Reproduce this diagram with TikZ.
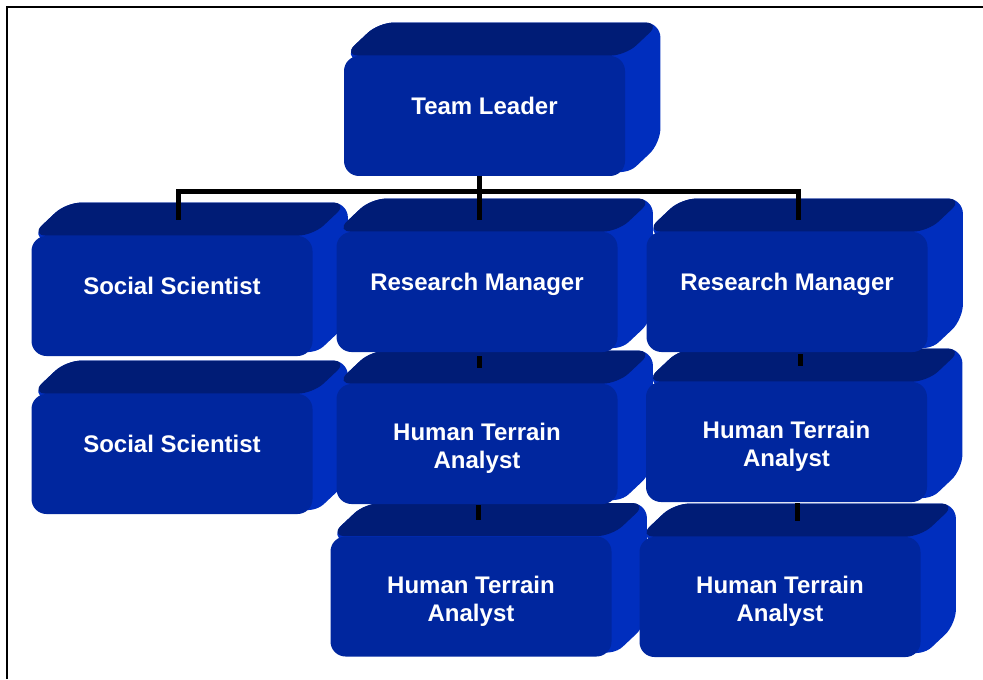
\documentclass[tikz,border=0pt]{standalone}
\usepackage{fontspec}
\setsansfont{Liberation Sans}
\usetikzlibrary{calc,backgrounds}

\definecolor{facefront}{RGB}{0,38,158}
\definecolor{facetop}{RGB}{0,28,118}
\definecolor{faceside}{RGB}{0,46,190}

\newcommand{\lowstrut}{\rule{0pt}{13pt}}

\begin{document}
\begin{tikzpicture}[x=0.5pt,y=-0.5pt,
    box node/.style={rectangle,rounded corners=7.5pt,fill=facefront,text=white,
        minimum width=140.5pt,minimum height=60pt,inner sep=0pt,align=center,
        font=\sffamily\bfseries\fontsize{12}{14}\selectfont},
    one line/.style={text height=9pt,text depth=10.4pt},
    link/.style={line width=2.5pt}]

    \useasboundingbox (0,0) rectangle (983,679);
    \draw[line width=1pt] (6.5,679) |- (983,7);

    \node[box node,one line] (tl) at (484.5,116) {Team Leader};
    \node[box node,one line] (ss1) at (172,296) {Social Scientist};
    \node[box node,one line] (rmA) at (477,292) {Research Manager};
    \node[box node,one line] (rmB) at (787,292) {Research Manager};
    \node[box node,one line] (ss2) at (172,454) {Social Scientist};
    \node[box node] (htaA1) at (477,444) {\lowstrut Human Terrain\\Analyst};
    \node[box node] (htaB1) at (786.5,442) {\lowstrut Human Terrain\\Analyst};
    \node[box node] (htaA2) at (471,596.5) {\lowstrut Human Terrain\\Analyst};
    \node[box node] (htaB2) at (780,597) {\lowstrut Human Terrain\\Analyst};

    % depth of the boxes
    \begin{scope}[on background layer]
        \foreach \n in {tl,ss1,rmA,rmB,ss2,htaA1,htaB1,htaA2,htaB2} {
            \fill[faceside,rounded corners=7.5pt] (\n.north west) -- ++(35,-33)
                -- ($(\n.north east)+(35,-33)$) -- ($(\n.south east)+(35,-33)$)
                -- (\n.south east) -- cycle;
            \fill[facetop,rounded corners=7.5pt] (\n.north west) -- ++(35,-33)
                -- ($(\n.north east)+(35,-33)$) -- (\n.north east) -- cycle;
        }
    \end{scope}

    \coordinate (bar) at (479,192);
    \draw[link] (tl.south -| bar) -- (bar);
    \draw[link] ($(ss1.north)+(6,-16)$) |- ($(rmB.north)+(11,-40)$) -- ++(0,28);
    \draw[link] (bar) -- ($(rmA.north)+(2,-12)$);
    \draw[link] ($(rmA.south)+(2,4)$) -- ($(htaA1.north)+(2,-16)$);
    \draw[link] ($(rmB.south)+(13,2)$) -- ($(htaB1.north)+(13.5,-16)$);
    \draw[link] ($(htaA1.south)+(1,1)$) -- ($(htaA2.north)+(7,-16)$);
    \draw[link] ($(htaB1.south)+(10.5,1)$) -- ($(htaB2.north)+(17,-16)$);
\end{tikzpicture}
\end{document}
